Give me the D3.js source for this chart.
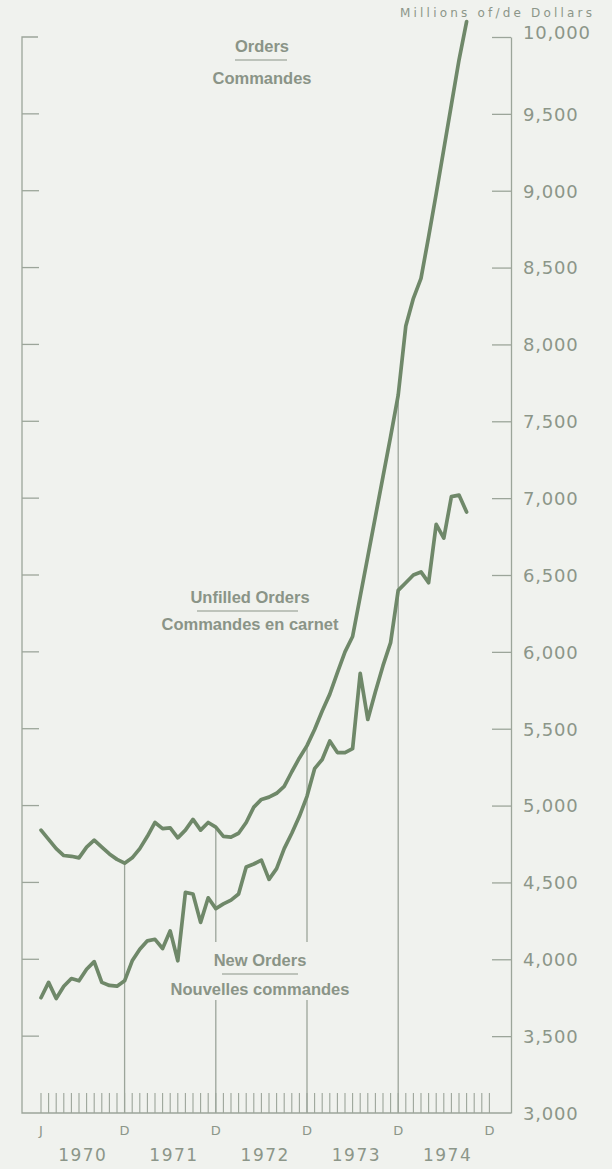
<!DOCTYPE html>
<html>
<head>
<meta charset="utf-8">
<script src="https://cdn.jsdelivr.net/npm/d3@7"></script>
<style>
  body { margin: 0; background: #f0f2ee; }
  .tick_label { font-family: 'DejaVu Sans', sans-serif; fill: #8c9689; }
  .series_label { font-family: 'Liberation Sans', Arial, sans-serif; font-weight: bold; fill: #8a9487; }
</style>
</head>
<body>
<div id="chart"></div>
<script>
// monthly values, Jan 1970 .. Sep 1974 (millions of dollars)
const unfilled_orders = [4840, 4780, 4720, 4675, 4670, 4660, 4730, 4775, 4730, 4685,
  4650, 4625, 4660, 4720, 4800, 4890, 4850, 4855, 4790, 4840,
  4910, 4840, 4890, 4860, 4800, 4795, 4820, 4890, 4990, 5040,
  5055, 5080, 5125, 5220, 5310, 5390, 5495, 5615, 5725, 5865,
  6000, 6100, 6360, 6620, 6880, 7140, 7400, 7670, 8120, 8300,
  8430, 8700, 8980, 9270, 9560, 9850, 10100];
const new_orders = [3750, 3850, 3745, 3825, 3875, 3860, 3935, 3985, 3850, 3830,
  3825, 3860, 3990, 4065, 4120, 4130, 4070, 4185, 3990, 4435,
  4425, 4240, 4400, 4330, 4360, 4385, 4425, 4600, 4620, 4645,
  4520, 4590, 4720, 4820, 4930, 5060, 5240, 5300, 5420, 5345,
  5345, 5370, 5860, 5560, 5740, 5910, 6060, 6400, 6450, 6500,
  6520, 6450, 6830, 6740, 7010, 7020, 6910];
const y_ticks = [3000, 3500, 4000, 4500, 5000, 5500, 6000, 6500, 7000, 7500, 8000, 8500, 9000, 9500, 10000];
const month_letters = [[0, 'J'], [11, 'D'], [23, 'D'], [35, 'D'], [47, 'D'], [59, 'D']];
const years = ['1970', '1971', '1972', '1973', '1974'];
const december_lines = [11, 23, 35, 47];

function orders_chart(options) {
  const id = '#' + options.id;
  const svg_width = options.width || 612;
  const svg_height = options.height || 1169;
  const line_colour = '#6f8869';
  const axis_colour = '#9ca59a';

  let svg = d3.select(id)
    .append('svg')
    .attr('width', svg_width)
    .attr('height', svg_height);

  svg.append('rect')
    .attr('width', svg_width)
    .attr('height', svg_height)
    .attr('fill', '#f0f2ee');

  const x = d3.scaleLinear()
    .domain([0, 59])
    .range([41, 489.4]);
  const y = d3.scaleLinear()
    .domain([3000, 10000])
    .range([1113, 37]);

  const left = 22, right = 511, bottom = y(3000);

  // frame: left bracket and bottom line
  svg.append('path')
    .attr('d', 'M' + (left + 16) + ',' + y(10000) + 'H' + left + 'V' + bottom + 'H' + right)
    .attr('fill', 'none')
    .attr('stroke', axis_colour)
    .attr('stroke-width', 1.3);

  // left ticks
  svg.append('g')
    .selectAll('line')
    .data(y_ticks.slice(1, -1))
    .enter()
    .append('line')
    .attr('x1', left)
    .attr('x2', left + 17)
    .attr('y1', d => y(d))
    .attr('y2', d => y(d))
    .attr('stroke', axis_colour)
    .attr('stroke-width', 1.3);

  // right axis
  const y_axis = svg.append('g')
    .attr('transform', 'translate(' + right + ',0)')
    .call(d3.axisRight(y)
      .tickValues(y_ticks)
      .tickSizeInner(-19)
      .tickSizeOuter(0)
      .tickPadding(12)
      .tickFormat(d3.format(',')));
  y_axis.select('.domain').attr('stroke', axis_colour).attr('stroke-width', 1.3);
  y_axis.selectAll('.tick line').attr('stroke', axis_colour).attr('stroke-width', 1.3);
  y_axis.selectAll('.tick text')
    .attr('class', 'tick_label')
    .style('font-size', '18px')
    .style('letter-spacing', '0.8px')
    .attr('fill', null)
    .attr('dy', d => d === 10000 ? '0.1em' : '0.35em');
  y_axis.selectAll('.tick').filter(d => d === 3000).select('line').remove();

  svg.append('text')
    .attr('class', 'tick_label')
    .attr('x', 592)
    .attr('y', 17)
    .attr('text-anchor', 'end')
    .style('font-size', '12px')
    .attr('textLength', 192)
    .attr('lengthAdjust', 'spacing')
    .text('Millions of/de Dollars');

  // month ticks
  svg.append('g')
    .selectAll('line')
    .data(d3.range(60))
    .enter()
    .append('line')
    .attr('x1', d => x(d))
    .attr('x2', d => x(d))
    .attr('y1', bottom)
    .attr('y2', bottom - 20)
    .attr('stroke', axis_colour)
    .attr('stroke-width', 1.1);

  // december lines reach up to unfilled orders
  svg.append('g')
    .selectAll('line')
    .data(december_lines)
    .enter()
    .append('line')
    .attr('x1', d => x(d))
    .attr('x2', d => x(d))
    .attr('y1', bottom)
    .attr('y2', d => y(unfilled_orders[d]))
    .attr('stroke', axis_colour)
    .attr('stroke-width', 1.3);

  svg.append('g')
    .selectAll('text')
    .data(month_letters)
    .enter()
    .append('text')
    .attr('class', 'tick_label')
    .attr('x', d => x(d[0]))
    .attr('y', bottom + 22)
    .attr('text-anchor', 'middle')
    .style('font-size', '13px')
    .text(d => d[1]);

  svg.append('g')
    .selectAll('text')
    .data(years)
    .enter()
    .append('text')
    .attr('class', 'tick_label')
    .attr('x', (d, i) => x(i * 12 + 5.5))
    .attr('y', bottom + 48)
    .attr('text-anchor', 'middle')
    .style('font-size', '17px')
    .style('letter-spacing', '1.5px')
    .text(d => d);

  // gap behind new orders label
  svg.append('rect')
    .attr('x', 200)
    .attr('y', 942)
    .attr('width', 116)
    .attr('height', 58)
    .attr('fill', '#f0f2ee');

  const line = d3.line()
    .x((d, i) => x(i))
    .y(d => y(d));

  [unfilled_orders, new_orders].forEach(function (series) {
    svg.append('path')
      .datum(series)
      .attr('d', line)
      .attr('fill', 'none')
      .attr('stroke', line_colour)
      .attr('stroke-width', 3.7)
      .attr('stroke-linejoin', 'round')
      .attr('stroke-linecap', 'round');
  });

  const labels = [
    { top: 'Orders', bottom: 'Commandes', x: 262, y: 52, gap: 32, rule: [235, 287] },
    { top: 'Unfilled Orders', bottom: 'Commandes en carnet', x: 250, y: 603, gap: 27, rule: [197, 298] },
    { top: 'New Orders', bottom: 'Nouvelles commandes', x: 260, y: 966, gap: 29, rule: [222, 298] }
  ];

  labels.forEach(function (d) {
    svg.append('text')
      .attr('class', 'series_label')
      .attr('x', d.x)
      .attr('y', d.y)
      .attr('text-anchor', 'middle')
      .style('font-size', '16.5px')
      .text(d.top);
    svg.append('line')
      .attr('x1', d.rule[0])
      .attr('x2', d.rule[1])
      .attr('y1', d.y + 8)
      .attr('y2', d.y + 8)
      .attr('stroke', '#8a9487')
      .attr('stroke-width', 1);
    svg.append('text')
      .attr('class', 'series_label')
      .attr('x', d.x)
      .attr('y', d.y + d.gap)
      .attr('text-anchor', 'middle')
      .style('font-size', '16.5px')
      .text(d.bottom);
  });

  return { svg: svg, x_scale: x, y_scale: y };
}

orders_chart({ id: 'chart', width: 612, height: 1169 });
</script>
</body>
</html>
